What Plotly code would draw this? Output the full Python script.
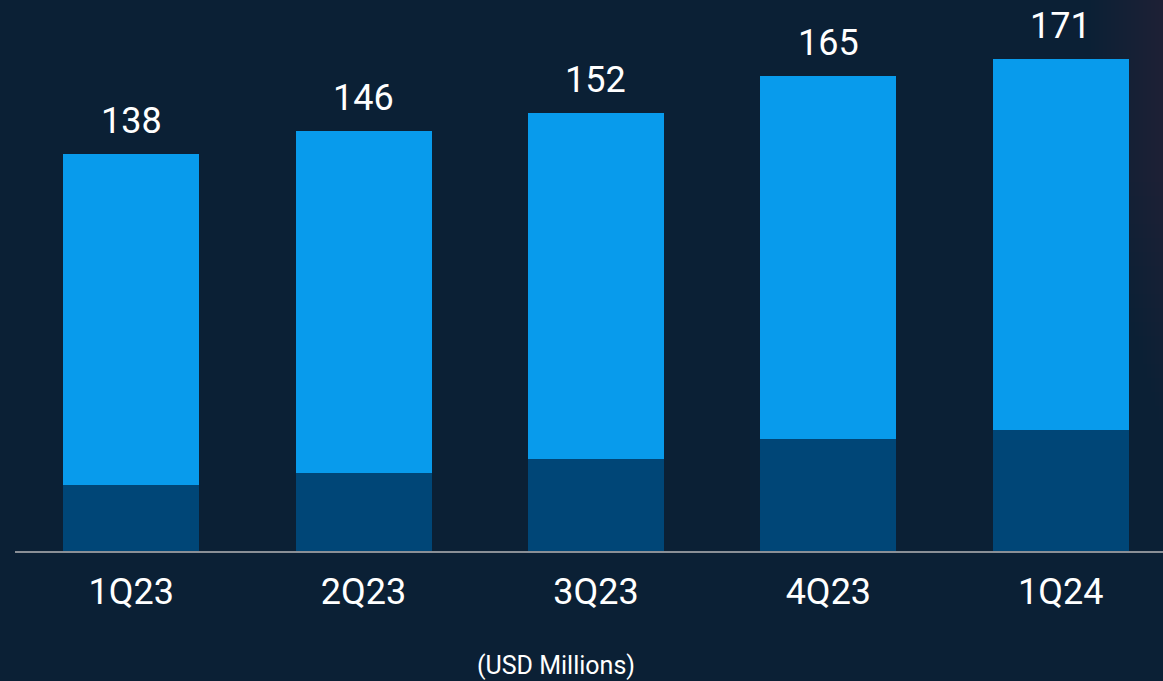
import plotly.graph_objects as go

quarters = ["1Q23", "2Q23", "3Q23", "4Q23", "1Q24"]
totals = [138, 146, 152, 165, 171]
bottom_part = [23, 27, 32, 39, 42]
top_part = [t - b for t, b in zip(totals, bottom_part)]

BG = "#0b2035"
LIGHT = "#089bec"
DARK = "#004677"
FONT = "Roboto"

W, H = 1163, 681
L, B = 15, 130
PW, PH = W - L, H - B

def px_x(p):
    return (p - L) / PW

def px_y(p):
    return (PH - p) / PH

xpos = list(range(len(quarters)))

fig = go.Figure()
fig.add_trace(go.Bar(x=xpos, y=bottom_part, marker=dict(color=DARK, line=dict(width=0)),
                     width=0.585, hoverinfo="skip"))
fig.add_trace(go.Bar(x=xpos, y=top_part, marker=dict(color=LIGHT, line=dict(width=0)),
                     width=0.585, hoverinfo="skip"))

for xi, t in zip(xpos, totals):
    fig.add_annotation(x=xi, y=t, text=str(t), showarrow=False, yanchor="middle",
                       yshift=33, font=dict(family=FONT, size=36, color="white"))

fig.add_annotation(x=px_x(556), y=px_y(665), xref="paper", yref="paper",
                   text="(USD Millions)", showarrow=False, yanchor="middle",
                   font=dict(family=FONT, size=25, color="white"))

# soft glow at the top-right edge (many faint layers for a smooth fade)
n = 18
for i in range(n):
    x0 = 1163 - 4 * (i + 1)
    y1 = 420 - 14 * i
    fig.add_shape(type="rect", xref="paper", yref="paper", x0=px_x(x0), x1=1.0,
                  y0=px_y(y1), y1=px_y(-10), fillcolor="#9b5041", opacity=0.014,
                  line=dict(width=0), layer="below")

fig.update_layout(
    barmode="stack",
    width=W, height=H,
    margin=dict(l=L, r=0, t=0, b=B),
    paper_bgcolor=BG, plot_bgcolor=BG,
    showlegend=False,
    bargap=0,
)
fig.update_xaxes(range=[-0.5, 4.44], tickmode="array", tickvals=xpos, ticktext=quarters,
                 showgrid=False, zeroline=False, showline=True, linecolor="#8a8f96", linewidth=2,
                 ticks="outside", ticklen=8, tickcolor="rgba(0,0,0,0)",
                 tickfont=dict(family=FONT, size=36, color="white"))
fig.update_yaxes(range=[0, PH / 2.88], showgrid=False, zeroline=False, showticklabels=False,
                 showline=False)

fig.write_html("out.html", config={"displayModeBar": False},
               post_script="document.body.style.margin='0';document.body.style.overflow='hidden';document.body.style.background='#0b2035';")
